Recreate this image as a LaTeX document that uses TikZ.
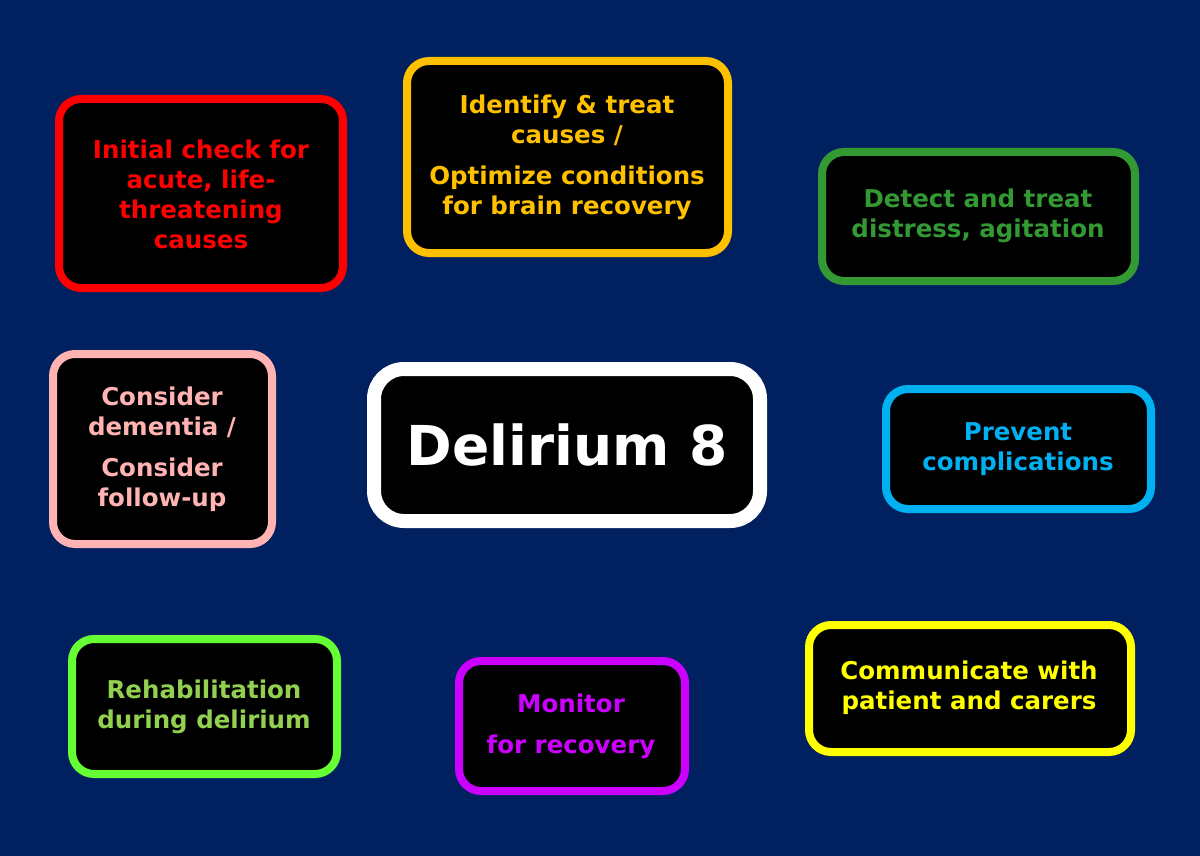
\documentclass[tikz,border=0pt]{standalone}
\usepackage{fontspec}
\setmainfont{DejaVu Sans}
\begin{document}
\begin{tikzpicture}[x=1pt,y=-1pt,
  box/.style={draw=#1,line width=8pt,rounded corners=22pt,fill=black},
  lbl/.style={text=#1,font=\bfseries\fontsize{24.5}{30}\selectfont,align=center,inner sep=0pt}]
\fill[fill={rgb,255:red,0;green,32;blue,96}] (0,0) rectangle (1200,856);
\useasboundingbox (0,0) rectangle (1200,856);
\definecolor{cred}{HTML}{FF0000}
\definecolor{corange}{HTML}{FFC000}
\definecolor{cgreen}{HTML}{339933}
\definecolor{cpink}{HTML}{FFB3B3}
\definecolor{cblue}{HTML}{00B0F0}
\definecolor{clime}{HTML}{66FF33}
\definecolor{climet}{HTML}{92D050}
\definecolor{cpurple}{HTML}{CC00FF}
\definecolor{cyellow}{HTML}{FFFF00}
\draw[box=cred] (59,99) rectangle (343,288);
\node[lbl=cred] (t1) at (201,194) {Initial check for\\acute, life-\\threatening\\causes};
\draw[box=corange] (407,61) rectangle (728,253);
\node[lbl=corange] (t2) at (567,157) {Identify \& treat\\causes /\\[11pt]Optimize conditions\\for brain recovery};
\draw[box=cgreen] (822,152) rectangle (1135,281);
\node[lbl=cgreen] (t3) at (978,216) {Detect and treat\\distress, agitation};
\draw[box=cpink] (53,354) rectangle (272,544);
\node[lbl=cpink] (t4) at (162,449) {Consider\\dementia /\\[11pt]Consider\\follow-up};
\draw[box=white,line width=14pt,rounded corners=30pt] (374,369) rectangle (760,521);
\node[text=white,font=\bfseries\fontsize{55}{55}\selectfont,inner sep=0pt] (c) at (567,445) {Delirium 8};
\draw[box=cblue] (886,389) rectangle (1151,509);
\node[lbl=cblue] (t5) at (1018,449) {Prevent\\complications};
\draw[box=clime] (72,639) rectangle (337,774);
\node[lbl=climet] (t6) at (204,707) {Rehabilitation\\during delirium};
\draw[box=cpurple] (459,661) rectangle (685,791);
\node[lbl=cpurple] (t7) at (571,726) {Monitor\\[11pt]for recovery};
\draw[box=cyellow] (809,625) rectangle (1131,752);
\node[lbl=cyellow] (t8) at (969,688) {Communicate with\\patient and carers};
\end{tikzpicture}
\end{document}
